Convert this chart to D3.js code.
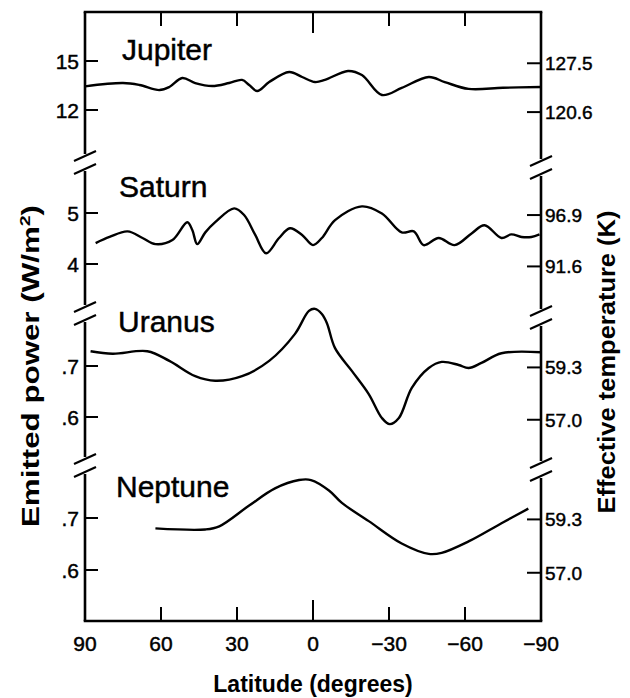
<!DOCTYPE html>
<html><head><meta charset="utf-8">
<script src="https://cdn.jsdelivr.net/npm/d3@7"></script>
<style>
body{margin:0;background:#fff}
svg{display:block}
text{font-family:"Liberation Sans",Arial,Helvetica,sans-serif;fill:#000}
text.reg{stroke:#000;stroke-width:0.45px}
</style>
</head><body><svg id="c" width="630" height="698"></svg>
<script>
// ---------------- data ----------------
const latitudeTicks = [90, 60, 30, 0, -30, -60, -90];
const planetNames = ["Jupiter", "Saturn", "Uranus", "Neptune"];

const jupiterLat   = [90, 75, 68.5, 60.6, 56.7, 51.6, 46.5, 39.8, 33.1, 28, 25.2, 22, 17.3, 9.4, 4.3, -0.8, -4.7, -13.8, -19.3, -27.2, -35, -45.7, -52, -61.4, -75, -90];
const jupiterPower = [13.45, 13.65, 13.53, 13.22, 13.41, 13.96, 13.65, 13.47, 13.65, 13.84, 13.53, 13.16, 13.71, 14.33, 14.02, 13.71, 13.84, 14.39, 14.14, 12.92, 13.35, 14.02, 13.71, 13.29, 13.36, 13.41];

const saturnLat   = [85.8, 80.3, 73.2, 67.3, 62.2, 55.5, 49.6, 47.6, 45.7, 42.5, 38.6, 31.1, 27.2, 22.8, 18.5, 13.4, 9.1, 4.3, 0, -3.5, -8.7, -19.3, -27.2, -35, -39.8, -43.7, -49.6, -55.9, -62.6, -67.7, -74.4, -78.3, -82.3, -86.2, -89.4];
const saturnPower = [4.41, 4.53, 4.64, 4.51, 4.39, 4.47, 4.82, 4.66, 4.39, 4.62, 4.82, 5.09, 4.96, 4.57, 4.21, 4.51, 4.70, 4.57, 4.37, 4.51, 4.86, 5.13, 4.99, 4.62, 4.64, 4.37, 4.51, 4.37, 4.60, 4.76, 4.51, 4.58, 4.53, 4.53, 4.58];

const uranusLat   = [87.8, 79.1, 65.4, 56.7, 46.5, 38.6, 28, 17.3, 7.1, 1.6, -0.8, -3.5, -5.5, -8.7, -15.4, -22, -27.2, -30.3, -33.9, -39, -45.7, -50.8, -57.5, -61.4, -66.5, -74.4, -90];
const uranusPower = [0.729, 0.724, 0.729, 0.710, 0.680, 0.671, 0.680, 0.710, 0.763, 0.808, 0.812, 0.802, 0.784, 0.735, 0.690, 0.645, 0.598, 0.586, 0.598, 0.657, 0.696, 0.708, 0.702, 0.696, 0.706, 0.725, 0.727];

const neptuneLat   = [62.2, 42.5, 37, 25.2, 15, 5.5, 0.8, -6.3, -11.4, -22, -35, -45.7, -50.8, -61.4, -74.4, -85];
const neptunePower = [0.680, 0.678, 0.684, 0.724, 0.757, 0.773, 0.773, 0.753, 0.729, 0.694, 0.651, 0.631, 0.633, 0.655, 0.690, 0.718];

const jupiterPowerTicks = [15, 12];
const saturnPowerTicks  = [5, 4];
const uranusPowerTicks  = [0.7, 0.6];
const neptunePowerTicks = [0.7, 0.6];
const powerTickLabels = [["15", "12"], ["5", "4"], [".7", ".6"], [".7", ".6"]];

const jupiterTempTicks = [127.5, 120.6];
const saturnTempTicks  = [96.9, 91.6];
const uranusTempTicks  = [59.3, 57.0];
const neptuneTempTicks = [59.3, 57.0];

// ---------------- layout ----------------
const SIGMA = 5.67e-8;
const svg = d3.select("#c");
const xL = 85, xR = 541, yT = 12, yB = 621;
const x = d3.scaleLinear().domain([90, -90]).range([xL, xR]);

const panels = [
  {name: planetNames[0], lat: jupiterLat, val: jupiterPower, pt: jupiterPowerTicks, tt: jupiterTempTicks, yr: [110, 61], lab: [122, 60]},
  {name: planetNames[1], lat: saturnLat,  val: saturnPower,  pt: saturnPowerTicks,  tt: saturnTempTicks,  yr: [264, 213], lab: [119, 197]},
  {name: planetNames[2], lat: uranusLat,  val: uranusPower,  pt: uranusPowerTicks,  tt: uranusTempTicks,  yr: [417, 366], lab: [118, 332]},
  {name: planetNames[3], lat: neptuneLat, val: neptunePower, pt: neptunePowerTicks, tt: neptuneTempTicks, yr: [570, 518], lab: [116, 497]}
];

const leftSegs  = [[yT, 154], [171, 305], [322, 457], [474, yB]];
const rightSegs = [[yT, 159], [176, 309], [326, 461], [478, yB]];

const g = svg.append("g");
const ax = g.append("g").attr("stroke", "#000").attr("stroke-width", 2.6).attr("fill", "none");

// top and bottom frame lines
ax.append("line").attr("x1", xL - 1.3).attr("x2", xR + 1.3).attr("y1", yT).attr("y2", yT);
ax.append("line").attr("x1", xL - 1.3).attr("x2", xR + 1.3).attr("y1", yB).attr("y2", yB);

// broken vertical axes
function brokenAxis(xp, segs) {
  segs.forEach(s => ax.append("line").attr("x1", xp).attr("x2", xp).attr("y1", s[0]).attr("y2", s[1]));
  for (let i = 0; i < segs.length - 1; i++) {
    [segs[i][1] + 2, segs[i + 1][0] - 2].forEach(yy => {
      ax.append("line").attr("stroke-width", 2.2)
        .attr("x1", xp - 11).attr("y1", yy + 5).attr("x2", xp + 11).attr("y2", yy - 5);
    });
  }
}
brokenAxis(xL, leftSegs);
brokenAxis(xR, rightSegs);

// latitude ticks (inward at top and bottom)
latitudeTicks.slice(1, -1).forEach(t => {
  const len = t === 0 ? 21 : 14;
  ax.append("line").attr("stroke-width", 2).attr("x1", x(t)).attr("x2", x(t)).attr("y1", yT).attr("y2", yT + len);
  ax.append("line").attr("stroke-width", 2).attr("x1", x(t)).attr("x2", x(t)).attr("y1", yB).attr("y2", yB - len);
});
g.selectAll("text.xt").data(latitudeTicks).join("text").attr("class", "xt reg")
  .attr("x", d => x(d)).attr("y", 651).attr("text-anchor", "middle")
  .style("font-size", "21px")
  .text(d => d < 0 ? "\u2212" + Math.abs(d) : d);

const line = d3.line().curve(d3.curveCatmullRom.alpha(0.5));

panels.forEach((p, i) => {
  const y = d3.scaleLinear().domain([p.pt[1], p.pt[0]]).range(p.yr);
  // left ticks
  p.pt.forEach((t, j) => {
    ax.append("line").attr("stroke-width", 2).attr("x1", xL).attr("x2", xL + 13).attr("y1", y(t)).attr("y2", y(t));
    g.append("text").attr("class", "reg").attr("x", 79).attr("y", y(t) + 7.5).attr("text-anchor", "end")
      .style("font-size", "21px").text(powerTickLabels[i][j]);
  });
  // right ticks (temperature, placed at equivalent emitted power sigma*T^4)
  p.tt.forEach(t => {
    const yy = y(SIGMA * Math.pow(t, 4)) + 2;
    ax.append("line").attr("stroke-width", 2).attr("x1", xR - 14).attr("x2", xR).attr("y1", yy).attr("y2", yy);
    g.append("text").attr("class", "reg").attr("x", 545).attr("y", yy + 7).attr("text-anchor", "start")
      .style("font-size", "19px").text(t.toFixed(1));
  });
  // curve
  const pts = p.lat.map((la, k) => [x(la), y(p.val[k])]);
  g.append("path").attr("d", line(pts)).attr("fill", "none").attr("stroke", "#000").attr("stroke-width", 2.4);
  // planet label
  g.append("text").attr("class", "reg").attr("x", p.lab[0]).attr("y", p.lab[1]).style("font-size", "30px").text(p.name);
});

// axis titles
g.append("text").attr("transform", "translate(39,366) rotate(-90)").attr("text-anchor", "middle")
  .style("font-size", "24px").style("font-weight", "bold")
  .attr("textLength", 322).attr("lengthAdjust", "spacingAndGlyphs")
  .call(t => {
    t.append("tspan").text("Emitted power (W/m");
    t.append("tspan").attr("dy", -9).style("font-size", "15px").text("2");
    t.append("tspan").attr("dy", 9).text(")");
  });
g.append("text").attr("transform", "translate(615,362) rotate(-90)").attr("text-anchor", "middle")
  .style("font-size", "24px").style("font-weight", "bold")
  .attr("textLength", 303).attr("lengthAdjust", "spacingAndGlyphs")
  .text("Effective temperature (K)");
g.append("text").attr("x", 313).attr("y", 692).attr("text-anchor", "middle")
  .style("font-size", "23px").style("font-weight", "bold")
  .text("Latitude (degrees)");
</script>
</body></html>
